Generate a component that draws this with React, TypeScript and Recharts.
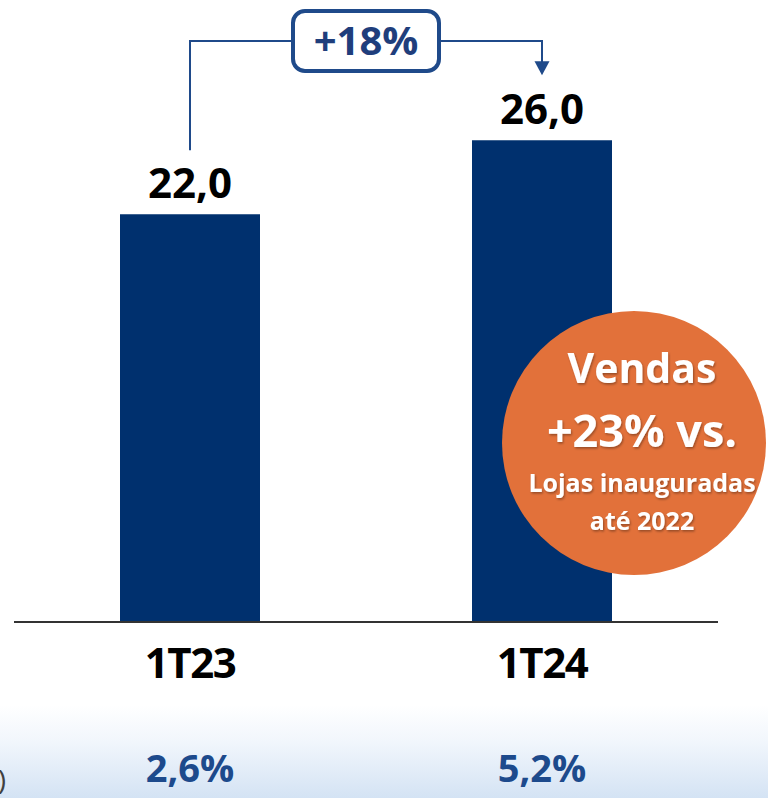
import React from 'react';
import { Bar, BarChart, LabelList, XAxis, YAxis } from 'recharts';

// quarterly values (R$ mi) and margin row
const categories = ['1T23', '1T24'];
const values = [22.0, 26.0];
const margins = ['2,6%', '5,2%'];

const calloutLines = ['Vendas', '+23% vs.', 'Lojas inauguradas', 'até 2022'];

const WIDTH = 768;
const HEIGHT = 798;
const MARGIN = { top: 66, right: 50, bottom: 46, left: 14 };
const X_AXIS_HEIGHT = 130;
const Y_MAX = 30;

const PLOT_LEFT = MARGIN.left;
const PLOT_WIDTH = WIDTH - MARGIN.left - MARGIN.right;
const PLOT_TOP = MARGIN.top;
const PLOT_BOTTOM = HEIGHT - MARGIN.bottom - X_AXIS_HEIGHT;
const PLOT_HEIGHT = PLOT_BOTTOM - PLOT_TOP;

const FONT = '"Open Sans", "DejaVu Sans", sans-serif';
const BAR_COLOR = '#00306e';
const ACCENT = '#1f4a8a';

const chartData = categories.map((name, i) => ({
  name,
  value: values[i],
  margin: margins[i],
}));

const fmt = (v: number) => v.toFixed(1).replace('.', ',');

// same mapping the chart uses, for the annotations only
const bandCenter = (i: number) =>
  PLOT_LEFT + (PLOT_WIDTH / categories.length) * (i + 0.5);
const yOf = (v: number) => PLOT_TOP + PLOT_HEIGHT * (1 - v / Y_MAX);

const LABEL_GAP = 16;
const LABEL_SIZE = 42;

function ValueLabel(props: any) {
  const { x, y, width, value } = props;
  return (
    <text
      x={x + width / 2}
      y={y - LABEL_GAP}
      textAnchor="middle"
      fontFamily={FONT}
      fontWeight={700}
      fontSize={LABEL_SIZE}
      fill="#000"
    >
      {fmt(value)}
    </text>
  );
}

function CategoryTick(props: any) {
  const { x, payload, index } = props;
  return (
    <g>
      <text
        x={x}
        y={PLOT_BOTTOM + 56}
        textAnchor="middle"
        fontFamily={FONT}
        fontWeight={700}
        fontSize={42}
        letterSpacing={-1.5}
        fill="#000"
      >
        {payload.value}
      </text>
      <text
        x={x}
        y={PLOT_BOTTOM + 160}
        textAnchor="middle"
        fontFamily={FONT}
        fontWeight={700}
        fontSize={38}
        fill="#1d4a8c"
      >
        {chartData[index]?.margin}
      </text>
    </g>
  );
}

function Annotations() {
  const x1 = bandCenter(0);
  const x2 = bandCenter(1);
  const labelTop1 = yOf(values[0]) - LABEL_GAP - 30;
  const labelTop2 = yOf(values[1]) - LABEL_GAP - 30;
  const lineY = 41;
  const boxW = 146;
  const boxH = 60;
  const mid = (x1 + x2) / 2;
  const growth = Math.round((values[1] / values[0] - 1) * 100);
  const tipY = labelTop2 - 19;

  const cx = 634;
  const cy = 443;
  const r = 132;
  const tx = 642;

  return (
    <svg
      width={WIDTH}
      height={HEIGHT}
      style={{ position: 'absolute', left: 0, top: 0, pointerEvents: 'none' }}
    >
      <defs>
        <filter id="txtShadow" x="-10%" y="-20%" width="120%" height="140%">
          <feDropShadow dx="1" dy="1.5" stdDeviation="1.2" floodColor="#000" floodOpacity="0.35" />
        </filter>
      </defs>
      {/* growth bracket */}
      <polyline
        points={`${x1},${labelTop1 - 18} ${x1},${lineY} ${mid - boxW / 2},${lineY}`}
        fill="none"
        stroke={ACCENT}
        strokeWidth={2}
      />
      <polyline
        points={`${mid + boxW / 2},${lineY} ${x2},${lineY} ${x2},${tipY - 12}`}
        fill="none"
        stroke={ACCENT}
        strokeWidth={2}
      />
      <polygon
        points={`${x2 - 7.5},${tipY - 14} ${x2 + 7.5},${tipY - 14} ${x2},${tipY}`}
        fill={ACCENT}
      />
      <rect
        x={mid - boxW / 2}
        y={lineY - boxH / 2}
        width={boxW}
        height={boxH}
        rx={12}
        fill="#fff"
        stroke={ACCENT}
        strokeWidth={4}
      />
      <text
        x={mid}
        y={lineY + 14}
        textAnchor="middle"
        fontFamily={FONT}
        fontWeight={700}
        fontSize={40}
        fill="#1f3e7c"
      >
        {`+${growth}%`}
      </text>

      {/* callout */}
      <circle cx={cx} cy={cy} r={r} fill="#e2713a" />
      <g filter="url(#txtShadow)" fontFamily={FONT} fontWeight={700} fill="#fff" textAnchor="middle">
        <text x={tx} y={383} fontSize={41}>{calloutLines[0]}</text>
        <text x={tx} y={447} fontSize={45}>{calloutLines[1]}</text>
        <text x={tx} y={492} fontSize={25}>{calloutLines[2]}</text>
        <text x={tx} y={530} fontSize={25}>{calloutLines[3]}</text>
      </g>

      {/* cut-off row label on the left edge */}
      <text x={6} y={790} textAnchor="end" fontFamily={FONT} fontSize={28} fill="#404040">
        (%)
      </text>
    </svg>
  );
}

export default function App() {
  return (
    <div style={{ position: 'relative', width: WIDTH, height: HEIGHT, overflow: 'hidden' }}>
      <style>{'body{margin:0}'}</style>
      <div
        style={{
          position: 'absolute',
          left: 0,
          top: 705,
          width: WIDTH,
          height: HEIGHT - 705,
          background: 'linear-gradient(to bottom, #ffffff 0%, #f1f6fc 40%, #d4e3f4 100%)',
        }}
      />
      <div style={{ position: 'absolute', left: 0, top: 0 }}>
        <BarChart width={WIDTH} height={HEIGHT} data={chartData} margin={MARGIN}>
          <YAxis hide domain={[0, Y_MAX]} />
          <XAxis
            dataKey="name"
            height={X_AXIS_HEIGHT}
            axisLine={{ stroke: '#333', strokeWidth: 2 }}
            tickLine={false}
            tick={<CategoryTick />}
            interval={0}
          />
          <Bar dataKey="value" fill={BAR_COLOR} barSize={140} isAnimationActive={false}>
            <LabelList dataKey="value" content={<ValueLabel />} />
          </Bar>
        </BarChart>
      </div>
      <Annotations />
    </div>
  );
}
